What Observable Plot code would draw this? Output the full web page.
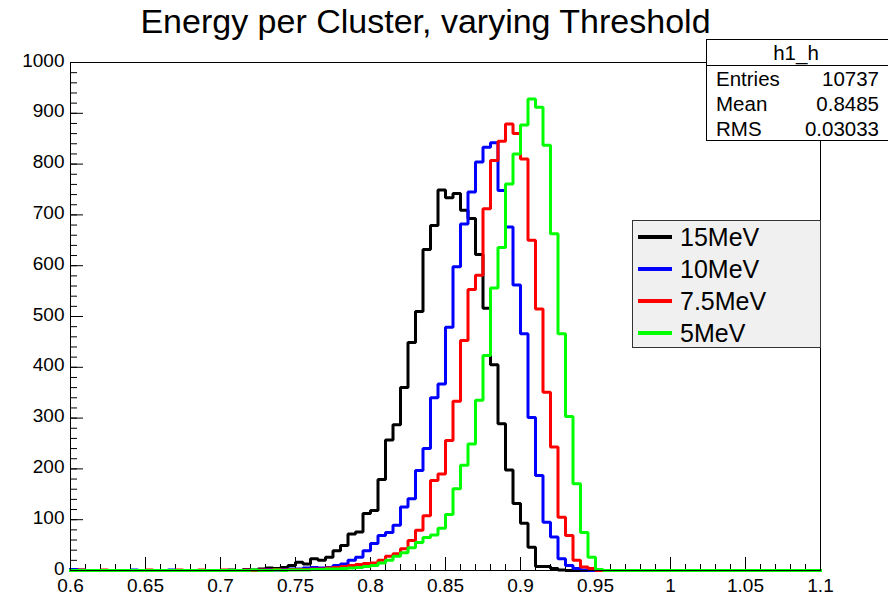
<!DOCTYPE html>
<html><head><meta charset="utf-8">
<script src="https://cdn.jsdelivr.net/npm/d3@7"></script>
<script src="https://cdn.jsdelivr.net/npm/@observablehq/plot@0.6"></script>
<style>
body{margin:0;background:#fff;}
#wrap{position:relative;width:888px;height:595px;overflow:hidden;font-family:"Liberation Sans",Arial,Helvetica,sans-serif;color:#000;}
#title{position:absolute;left:0;top:5px;width:851px;text-align:center;font-size:34px;line-height:33px;white-space:nowrap;}
#stats{position:absolute;left:706px;top:39px;width:184px;height:102px;border:1px solid #000;background:#fff;box-sizing:border-box;font-size:20.5px;}
#stats .hdr{height:25px;border-bottom:1px solid #000;text-align:center;line-height:25px;padding-right:4px;}
#stats .row{position:relative;height:25px;line-height:26px;}
#stats .row .l{position:absolute;left:9px;}
#stats .row .v{position:absolute;right:10px;}
#legend{position:absolute;left:632px;top:220px;width:189px;height:128px;border:1px solid #333;background:#f0f0f0;box-sizing:border-box;font-size:25px;}
#legend .ent{position:absolute;left:0;height:32px;width:100%;}
#legend .sw{position:absolute;left:5px;top:14px;width:34px;height:4px;}
#legend .tx{position:absolute;left:47px;top:0;line-height:32px;}
</style></head><body>
<div id="wrap"><div id="chart"></div><div id="title"></div><div id="stats"></div><div id="legend"></div></div>
<script>
const titleText = "Energy per Cluster, varying Threshold";
const seriesNames = ["15MeV", "10MeV", "7.5MeV", "5MeV"];
const seriesColors = ["#000000", "#0000ff", "#ff0000", "#00ff00"];
const statsTitle = "h1_h";
const statsLabels = ["Entries", "Mean", "RMS"];
const statsValues = ["10737", "0.8485", "0.03033"];

// histogram binning: 100 bins of width 0.005 from 0.6 to 1.1
const binLow = 0.6;
const binWidth = 0.005;

const counts15 = [
  0,0,0,0,0,0,0,0,0,0,
  0,0,0,0,0,0,0,0,0,0,
  0,1,0,2,1,3,5,4,6,10,
  16,13,23,20,26,39,49,72,76,112,
  118,179,257,287,360,449,510,632,679,749,
  734,742,709,693,622,516,405,289,198,132,
  93,46,8,8,4,1,0,0,0,0,
  0,0,0,0,0,0,0,0,0,0,
  0,0,0,0,0,0,0,0,0,0,
  0,0,0,0,0,0,0,0,0,0];
const counts10 = [
  2,1,0,0,0,0,0,0,1,0,
  0,0,0,1,0,0,0,0,0,0,
  0,0,0,1,0,1,2,1,2,3,
  3,5,6,5,6,10,13,20,26,39,
  53,69,75,89,125,141,197,240,340,367,
  479,598,682,745,804,833,842,748,676,562,
  466,301,187,95,66,23,10,4,1,0,
  0,0,0,0,0,0,0,0,0,0,
  0,0,0,0,0,0,0,0,0,0,
  0,0,0,0,0,0,0,0,0,0];
const counts75 = [
  0,1,0,0,1,0,0,0,0,0,
  1,0,0,0,1,0,0,1,0,0,
  1,0,0,1,0,1,1,2,1,2,
  2,2,3,3,5,6,8,10,12,14,
  15,20,28,33,43,59,79,108,177,190,
  256,333,453,553,581,712,807,845,879,860,
  810,650,515,351,243,105,69,20,7,4,
  0,0,0,0,0,0,0,0,0,0,
  0,0,0,0,0,0,0,0,0,0,
  0,0,0,0,0,0,0,0,0,0];
const counts5 = [
  0,0,0,0,0,0,0,0,0,0,
  0,0,0,0,0,0,0,0,0,0,
  0,0,0,0,1,0,0,1,0,1,
  1,1,2,2,3,3,4,5,6,8,
  10,15,20,28,35,45,55,65,70,83,
  110,161,207,249,335,423,556,636,761,820,
  877,928,912,837,663,466,303,171,75,26,
  2,0,0,0,0,0,0,0,0,0,
  0,0,0,0,0,0,0,0,0,0,
  0,0,0,0,0,0,0,0,0,0];
const allCounts = [counts15, counts10, counts75, counts5];

const xMajor = [0.6,0.65,0.7,0.75,0.8,0.85,0.9,0.95,1,1.05,1.1];
const xTickLabels = ["0.6","0.65","0.7","0.75","0.8","0.85","0.9","0.95","1","1.05","1.1"];
const yMajor = [0,100,200,300,400,500,600,700,800,900,1000];
const yTickLabels = ["0","100","200","300","400","500","600","700","800","900","1000"];
const xMinor = d3.range(0, 51).map(i => +(0.6 + i * 0.01).toFixed(3));
const yMinor = d3.range(0, 51).map(i => i * 20);

const W = 888, H = 595;
const mL = 70, mR = 68, mT = 62, mB = 25;
const plotW = W - mL - mR, plotH = H - mT - mB;

function rowsOf(counts) {
  const rows = counts.map((c, i) => ({x: binLow + i * binWidth, y: c}));
  rows.push({x: binLow + counts.length * binWidth, y: counts[counts.length - 1]});
  return rows;
}

const lineMarks = allCounts.map((c, k) => Plot.line(rowsOf(c), {
  x: "x", y: "y", curve: "step-after", stroke: seriesColors[k], strokeWidth: 3,
  strokeLinejoin: "miter", strokeLinecap: "square"
}));

const chart = Plot.plot({
  width: W, height: H,
  marginLeft: mL, marginRight: mR, marginTop: mT, marginBottom: mB,
  x: {domain: [0.6, 1.1], label: null},
  y: {domain: [0, 1000], label: null},
  style: {fontFamily: "'Liberation Sans', Arial, sans-serif", fontSize: "19px", color: "#000", background: "#fff", overflow: "visible"},
  marks: [
    Plot.ruleX(xMinor, {insetTop: plotH - 6, stroke: "#000"}),
    Plot.ruleX(xMajor, {insetTop: plotH - 13, stroke: "#000"}),
    Plot.ruleY(yMinor, {insetRight: plotW - 7, stroke: "#000"}),
    Plot.ruleY(yMajor, {insetRight: plotW - 13, stroke: "#000"}),
    Plot.axisX({ticks: xMajor, tickSize: 0, tickPadding: 8, fontSize: 19, label: null,
      tickFormat: d => xTickLabels[xMajor.indexOf(d)]}),
    Plot.axisY({ticks: yMajor, tickSize: 0, tickPadding: 6, fontSize: 19, label: null, dy: -2,
      tickFormat: d => yTickLabels[yMajor.indexOf(d)]}),
    ...lineMarks,
    Plot.frame({stroke: "#000"})
  ]
});
document.getElementById("chart").appendChild(chart);

document.getElementById("title").textContent = titleText;

const stats = document.getElementById("stats");
const hdr = document.createElement("div");
hdr.className = "hdr"; hdr.textContent = statsTitle;
stats.appendChild(hdr);
statsLabels.forEach((l, i) => {
  const r = document.createElement("div"); r.className = "row";
  const a = document.createElement("span"); a.className = "l"; a.textContent = l;
  const b = document.createElement("span"); b.className = "v"; b.textContent = statsValues[i];
  r.appendChild(a); r.appendChild(b); stats.appendChild(r);
});

const legend = document.getElementById("legend");
seriesNames.forEach((n, i) => {
  const e = document.createElement("div"); e.className = "ent"; e.style.top = (i * 32) + "px";
  const s = document.createElement("div"); s.className = "sw"; s.style.background = seriesColors[i];
  const t = document.createElement("div"); t.className = "tx"; t.textContent = n;
  e.appendChild(s); e.appendChild(t); legend.appendChild(e);
});
</script>
</body></html>
